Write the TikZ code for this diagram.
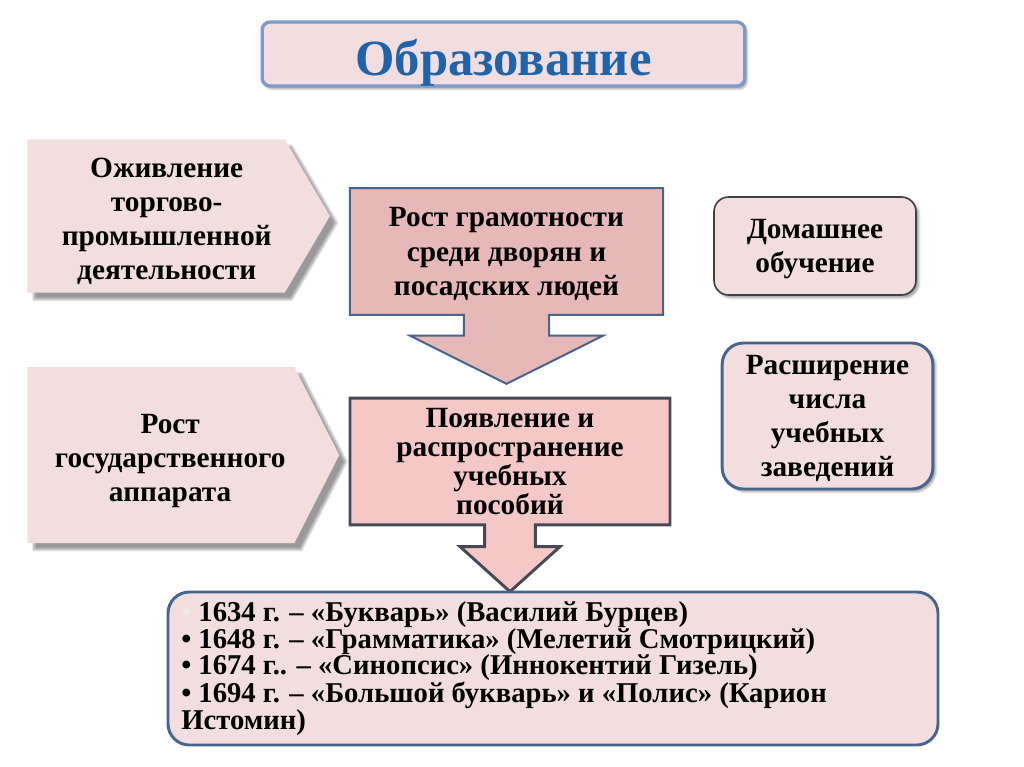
\documentclass[tikz,border=0pt]{standalone}
\usepackage{fontspec}
\setmainfont{Liberation Serif}
\usetikzlibrary{positioning,shapes.arrows,shapes.symbols,shadows.blur}

\definecolor{lightpink}{RGB}{242,222,222}
\definecolor{rosepink}{RGB}{230,184,183}
\definecolor{softpink}{RGB}{245,200,200}
\definecolor{titleblue}{RGB}{31,100,170}
\definecolor{frameblue}{RGB}{125,155,200}
\definecolor{darkblue}{RGB}{70,100,140}
\definecolor{darkgrey}{RGB}{70,72,85}

\tikzstyle{heading}=[rectangle, rounded corners=6pt, draw=frameblue, line width=2.5pt, fill=lightpink, text=titleblue, font=\fontsize{38}{40}\selectfont\bfseries, text height=31.5pt, text depth=0pt, minimum width=362pt, minimum height=48pt, blur shadow={shadow xshift=1.5pt, shadow yshift=-2pt, shadow blur steps=4}]
\tikzstyle{cause}=[signal, signal to=east, fill=lightpink, inner sep=0pt, blur shadow={shadow xshift=5pt, shadow yshift=-5pt, shadow blur steps=6}]
\tikzstyle{causetext}=[text=black, align=center, inner sep=0pt, font=\fontsize{22}{25.5}\selectfont\bfseries]
\tikzstyle{effect}=[arrow box, arrow box arrows={south:51pt}, text=black, align=center, font=\fontsize{22}{26}\selectfont\bfseries]
\tikzstyle{side}=[rectangle, fill=lightpink, text=black, align=center, font=\fontsize{22}{25}\selectfont\bfseries]

\begin{document}
\begin{tikzpicture}[x=0.75pt, y=-0.75pt]
    \useasboundingbox (0,0) rectangle (1024,767);
        \node(title)[heading] at (503.5,54) {
            Образование
        };
        \node(trade)[cause, signal pointer angle=119, minimum width=227pt, minimum height=115pt, anchor=west] at (27,216) {};
        \node(tradetext)[causetext] at ([xshift=8pt, yshift=-4pt]trade.center) {
            Оживление\\торгово-\\промышленной\\деятельности
        };
        \node(state)[cause, signal pointer angle=126, minimum width=234pt, minimum height=132pt, anchor=west] at (27,455) {};
        \node(statetext)[causetext] at ([xshift=7pt, yshift=-4.5pt]state.center) {
            Рост\\государственного\\аппарата
        };
        \node(literacy)[effect, fill=rosepink, draw=darkblue, line width=1.5pt, text depth=-3pt, minimum width=235pt, minimum height=95pt, arrow box shaft width=64pt, arrow box head extend=40.5pt, arrow box tip angle=127] at (506.5,251.5) {
            Рост грамотности\\среди дворян и\\посадских людей
        };
        \node(manuals)[effect, fill=softpink, draw=darkgrey, line width=2.2pt, font=\fontsize{22}{21.75}\selectfont\bfseries, minimum width=240pt, minimum height=95pt, arrow box arrows={south:49pt}, arrow box shaft width=38pt, arrow box head extend=18.5pt, arrow box tip angle=96] at (510,461.5) {
            Появление и\\распространение\\учебных\\пособий
        };
        \node(home)[side, draw=black!75, line width=1.2pt, rounded corners=11pt, text depth=-2.7pt, minimum width=151.5pt, minimum height=73.5pt, blur shadow={shadow xshift=2pt, shadow yshift=-2pt, shadow blur steps=4}] at (815,246) {
            Домашнее\\обучение
        };
        \node(schools)[side, draw=darkblue, line width=2.2pt, rounded corners=16pt, font=\fontsize{22}{25.5}\selectfont\bfseries, text depth=-2.8pt, minimum width=158pt, minimum height=109.5pt, blur shadow={shadow xshift=2pt, shadow yshift=-2pt, shadow blur steps=4}] at (827.5,416) {
            Расширение\\числа\\учебных\\заведений
        };
        \node(bookbox)[rectangle, draw=darkblue, line width=2.2pt, fill=lightpink, rounded corners=16pt, minimum width=577.5pt, minimum height=114.75pt] at (553,668.5) {};
        \node(books)[anchor=north west, inner sep=0pt, align=left, font=\fontsize{21.5}{19.5}\selectfont\bfseries] at (181,601) {
            {\color{white!92!black}•} 1634 г. – «Букварь» (Василий Бурцев)\\
            • 1648 г. – «Грамматика» (Мелетий Смотрицкий)\\
            • 1674 г.. – «Синопсис» (Иннокентий Гизель)\\
            • 1694 г. – «Большой букварь» и «Полис» (Карион\\
            Истомин)
        };
    \end{tikzpicture}
\end{document}
